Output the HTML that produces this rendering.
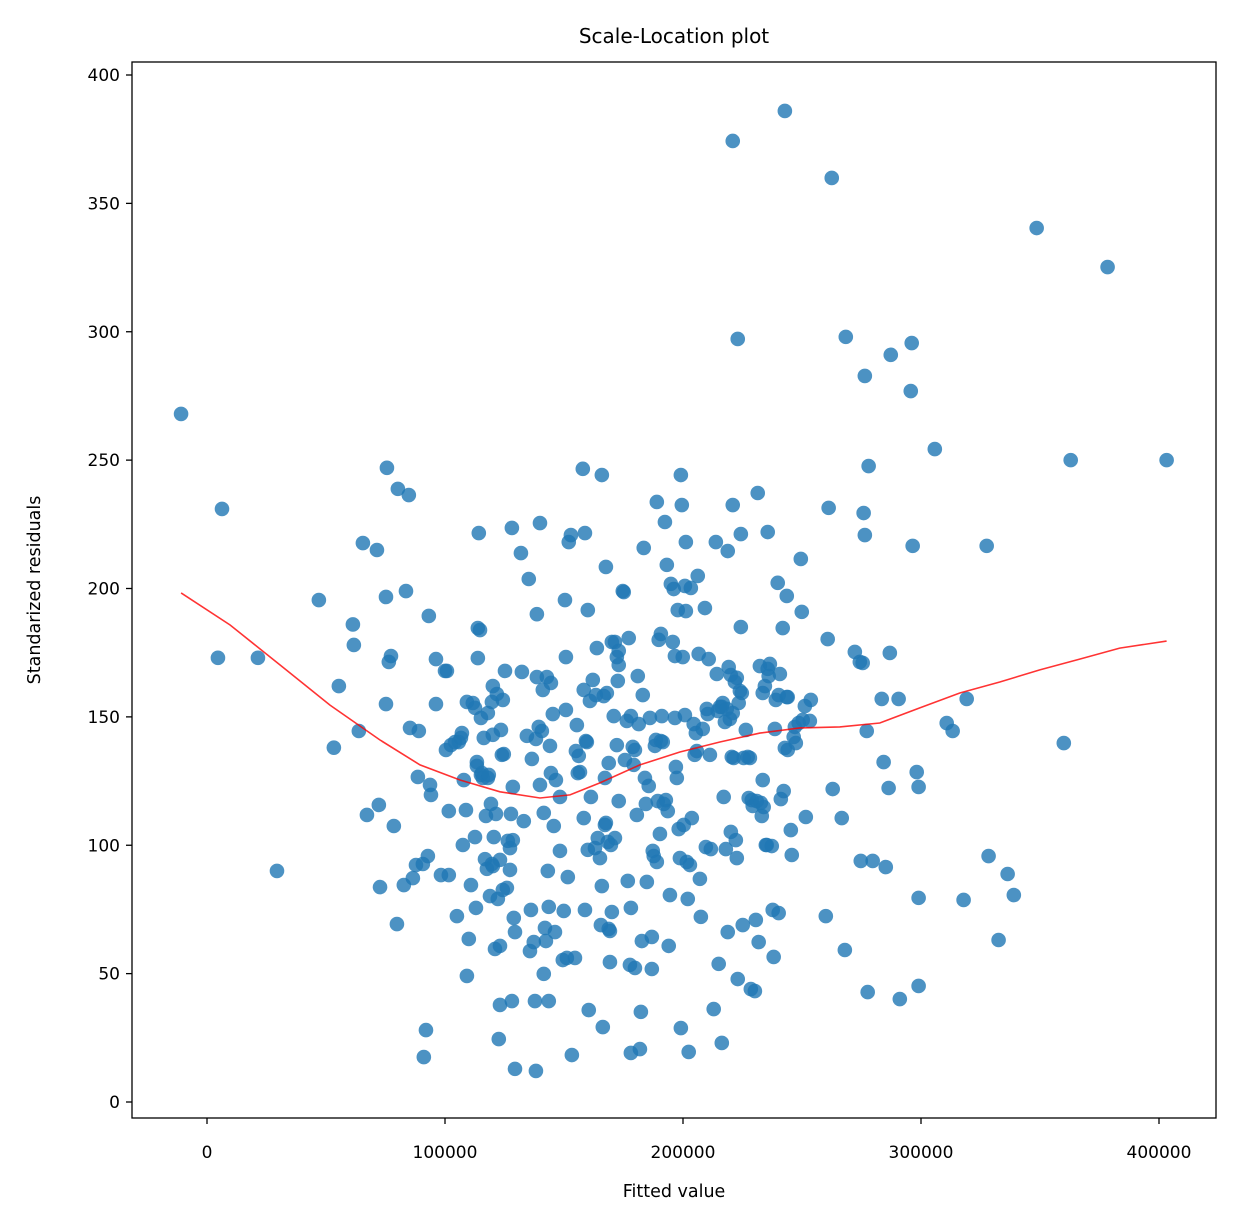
<!DOCTYPE html>
<html><head><meta charset="utf-8"><style>
body{margin:0;background:#fff}
svg{display:block;font-family:"DejaVu Sans","Liberation Sans",sans-serif}
</style></head><body>
<svg id="chart" width="1240" height="1226" viewBox="0 0 1240 1226" xmlns="http://www.w3.org/2000/svg">
<rect width="1240" height="1226" fill="#fff"/>
<text x="674" y="43" text-anchor="middle" font-size="20">Scale-Location plot</text>
<text x="674" y="1197" text-anchor="middle" font-size="17.5">Fitted value</text>
<text transform="translate(40,590) rotate(-90)" text-anchor="middle" font-size="17.5">Standarized residuals</text>
<g id="points"></g>
<g id="lowess"></g>
<g id="axes"></g>
<rect x="132" y="62" width="1084" height="1056" fill="none" stroke="#000" stroke-width="1.3"/>
</svg>
<script>
const xTicks=[0,100000,200000,300000,400000];
const xTickLabels=["0","100000","200000","300000","400000"];
const yTicks=[0,50,100,150,200,250,300,350,400];
const yTickLabels=["0","50","100","150","200","250","300","350","400"];
const fittedK=[-10.9,6.3,4.6,21.4,29.4,47,53.3,55.4,61.3,61.7,63.8,65.5,67.2,71.4,72.2,72.7,75.2,75.2,75.6,76.4,77.3,78.5,79.8,80.2,82.7,83.6,84.8,85.3,86.5,87.8,88.6,89,90.7,91.1,92,92.8,93.2,93.7,94.1,96.2,96.2,98.3,100,100.4,100.8,101.6,101.6,102.5,104.2,105,105.8,106.7,107.1,107.5,107.9,108.8,109.2,109.2,110,110.9,111.7,112.6,112.6,113,113.4,113.4,113.8,113.8,114.2,114.7,115.1,115.1,115.5,115.9,116.3,116.8,117.2,117.6,118,118,118.4,118.9,119.3,119.7,119.7,120.1,120.1,120.1,120.5,121,121.4,121.8,122.2,122.6,123.1,123.1,123.1,123.5,123.9,124.3,124.3,124.7,125.2,126,126.4,127.3,127.3,127.7,128.1,128.1,128.5,128.5,128.9,129.4,129.4,131.9,132.3,133.1,134.4,135.2,135.7,136.1,136.5,137.3,137.8,138.2,138.2,138.6,138.6,139.4,139.9,139.9,140.7,141.1,141.5,141.5,142,142.4,142.8,143.2,143.6,143.6,144.1,144.5,144.5,145.3,145.7,146.2,146.6,148.3,148.3,149.5,149.9,150.4,150.8,150.8,151.2,151.6,152,152.9,153.3,154.6,155,155.4,155.8,156.2,156.7,157.9,158.3,158.3,158.8,158.8,159.2,159.6,160,160,160.4,160.9,161.3,162.1,163,163.4,163.8,164.2,165.1,165.5,165.9,165.9,166.3,166.7,167.2,167.2,167.6,167.6,168,168.4,168.8,168.8,169.3,169.3,169.7,170.1,170.1,170.9,171.4,171.4,172.2,172.2,172.6,173,173,173,174.7,175.1,175.6,176.4,176.8,177.2,177.7,178.1,178.1,178.1,178.9,179.3,179.8,179.8,180.6,181,181.4,181.9,182.3,182.7,183.1,183.5,184,184.4,184.8,185.6,186.1,186.9,186.9,187.3,187.7,188.2,188.6,189,189,189.4,189.8,190.3,190.7,190.7,191.1,191.5,191.9,192.4,192.8,193.2,193.6,194,194.5,194.9,195.7,196.1,196.6,196.6,197,197.4,197.8,198.2,198.7,199.1,199.1,199.5,199.9,200.3,200.8,200.8,201.2,201.2,201.6,202,202.4,202.9,203.3,203.7,204.5,204.9,205.4,205.8,206.2,206.6,207.1,207.5,208.3,209.2,209.6,210,210.4,210.8,211.3,211.7,212.9,213.8,214.2,214.6,215,215.5,216.3,216.3,216.7,217.1,217.6,218,218.4,218.8,218.8,219.2,219.7,220.1,220.1,220.5,220.9,220.9,221.3,221.8,222.2,222.6,222.6,223,223.4,223.9,224.3,224.3,224.7,225.1,225.5,226.4,227.2,227.6,228.1,228.5,228.9,229.3,230.2,230.6,231,231.4,231.8,232.3,232.7,233.1,233.5,233.5,233.9,234.4,234.8,235.2,235.6,235.6,236,236.5,237.3,237.7,238.1,238.6,239,239.8,240.2,240.2,240.7,241.1,241.9,242.3,242.8,243.6,243.6,244,244,245.3,245.7,246.5,247,247.4,248.6,249.5,249.9,250.3,251.2,251.6,253.3,253.7,260,260.8,261.2,262.5,262.9,266.7,268,268.4,272.2,274.3,274.7,275.5,275.9,276.4,276.4,277.2,277.6,278,279.7,283.5,284.3,285.2,286.4,286.9,287.3,290.6,291.1,295.7,296.1,296.5,298.2,299,299,299,305.8,310.8,313.3,317.9,319.2,327.6,328.4,332.6,336.4,339,348.6,360,362.9,378.4,403.2,220.9,242.8,223];
const residuals=[268,231,173,173,90,195.5,138,162,186,178,144.5,217.7,111.8,215,115.7,83.7,196.7,155,247,171.4,173.7,107.5,69.3,238.8,84.5,199,236.4,145.7,87.2,92.3,126.6,144.5,92.7,17.5,28,95.8,189.3,123.5,119.6,155,172.5,88.4,167.9,137.1,167.9,113.3,88.4,139,140.2,72.4,140.2,141.8,143.7,100.1,125.4,113.7,155.8,49.1,63.5,84.5,155.4,153.5,103.2,75.6,130.9,132.4,184.6,172.9,221.6,183.8,127.4,149.6,128.1,126.2,141.8,94.6,111.4,90.8,126.2,151.5,127.4,80.2,116.1,155.8,92.7,91.9,143,162,103.2,59.6,112.2,158.9,79.1,24.5,60.8,94.3,37.8,144.9,135.2,156.6,82.6,135.5,167.9,83.4,101.7,90.4,98.9,112.2,223.6,39.3,122.7,102,71.7,66.2,12.9,213.8,167.5,109.4,142.6,203.7,58.8,74.8,133.6,62.3,39.3,141.4,12.1,165.5,190,146.1,225.5,123.5,144.5,160.5,112.6,49.9,67.8,62.7,165.5,90,76,39.3,138.7,163.2,128.1,151.1,107.5,66.2,125.4,97.8,118.8,55.3,74.4,195.5,173.3,152.7,56.1,87.6,218.1,220.8,18.3,56.1,136.7,146.8,128.1,134.8,128.5,246.6,160.5,110.6,221.6,74.8,140.6,140.2,191.6,98.2,35.8,156.2,118.8,164.4,98.9,158.5,176.8,102.8,95,68.9,84.1,244.2,29.2,158.1,107.9,126.2,108.7,208.4,159.3,101.3,132,67.4,66.6,54.5,100.1,179.2,74,150.3,179.2,102.8,173.3,139,164,117.2,175.7,170.2,199,198.6,133.2,148.4,86.1,180.7,53.4,75.6,19.1,150.3,138.3,131.3,52.2,137.1,111.8,165.9,147.2,20.6,35.1,62.7,158.5,215.8,126.2,116.1,85.7,123.1,149.6,51.8,64.3,97.8,95.8,138.7,141,93.5,233.7,117.2,180,104.4,182.3,140.6,150.3,140.2,116.1,225.9,117.6,209.2,113.3,60.8,80.6,201.8,179.2,199.8,149.6,173.7,130.5,126.2,191.6,106.3,95,28.8,244.2,232.5,173.3,107.9,201,150.7,218.1,191.2,93.5,79.1,19.5,92.3,200.2,110.6,147.2,135.2,143.7,136.7,204.9,174.5,86.9,72.1,145.3,192.4,99.3,153.1,151.1,172.5,135.2,98.5,36.2,218.1,166.7,152.3,53.8,153.9,23,153.9,155.4,118.8,148,98.5,153.1,66.2,214.6,169.4,149.2,166.3,105.2,134.4,151.5,232.5,134,163.6,102,95,165.2,47.9,155.4,160.1,185,221.2,159.3,68.9,134,144.9,134.4,118.4,134,44,117.6,115.3,43.2,70.9,117.2,237.2,62.3,169.8,116.5,111.4,125.4,159.3,114.9,162,100.1,100.1,168.7,222,165.9,170.6,99.7,74.8,56.5,145.3,156.6,202.2,158.5,73.6,166.7,118,184.6,121.1,137.9,157.7,197.1,137.1,157.7,105.9,96.2,142.2,146.1,139.8,147.6,211.5,190.9,148.8,154.2,111,148.4,156.6,72.4,180.3,231.4,359.9,121.9,110.6,59.2,298,175.3,171.4,93.9,171,229.4,220.8,282.8,144.5,42.8,247.7,93.9,157,132.4,91.5,122.3,174.9,291,157,40.1,276.9,295.6,216.6,128.5,122.7,79.5,45.2,254.3,147.6,144.5,78.7,157,216.6,95.8,63.1,88.8,80.6,340.4,139.8,250,325.2,250,374.3,386,297.2];
const lowessXK=[-10.9,9.7,30.7,51.7,72.7,89.5,106.3,123.1,139.9,152.5,165.1,181.9,198.7,215.5,232.3,249.1,265.9,282.7,299.5,316.3,333.1,349.9,366.7,383.5,403.2];
const lowessY=[198.3,185.8,170.2,154.6,141,131.3,125.4,120.8,118.4,119.6,124.3,131.3,136.3,140.2,143.7,145.7,146.1,147.6,153.5,159.3,163.6,168.3,172.5,176.8,179.5];

const NS="http://www.w3.org/2000/svg";
function sx(v){return 207+(v/100000)*238;}
function sy(v){return 1102-v*2.5675;}
function mk(t,a){const e=document.createElementNS(NS,t);for(const k in a)e.setAttribute(k,a[k]);return e;}

const pg=document.getElementById('points');
for(let i=0;i<fittedK.length;i++){
  const c=mk('circle',{cx:sx(fittedK[i]*1000),cy:sy(residuals[i]),r:7.3,fill:'#1f77b4','fill-opacity':0.8});
  
  
  pg.appendChild(c);
}
const lg=document.getElementById('lowess');
const d=lowessXK.map((x,i)=>(i?'L':'M')+sx(x*1000).toFixed(1)+' '+sy(lowessY[i]).toFixed(1)).join(' ');
const ln=mk('path',{d:d,fill:'none',stroke:'red','stroke-opacity':0.8,'stroke-width':1.6});


lg.appendChild(ln);

const ag=document.getElementById('axes');
xTicks.forEach((v,i)=>{
  const x=sx(v);
  const t=mk('line',{x1:x,x2:x,y1:1118,y2:1124,stroke:'#000','stroke-width':1.3});
  
  
  ag.appendChild(t);
  const l=mk('text',{x:x,y:1158,'text-anchor':'middle','font-size':17});
  
  
  l.textContent=xTickLabels[i];ag.appendChild(l);
});
yTicks.forEach((v,i)=>{
  const y=sy(v);
  const t=mk('line',{x1:126,x2:132,y1:y,y2:y,stroke:'#000','stroke-width':1.3});
  
  
  ag.appendChild(t);
  const l=mk('text',{x:120,y:y+6,'text-anchor':'end','font-size':17});
  
  
  l.textContent=yTickLabels[i];ag.appendChild(l);
});
</script>
</body></html>
